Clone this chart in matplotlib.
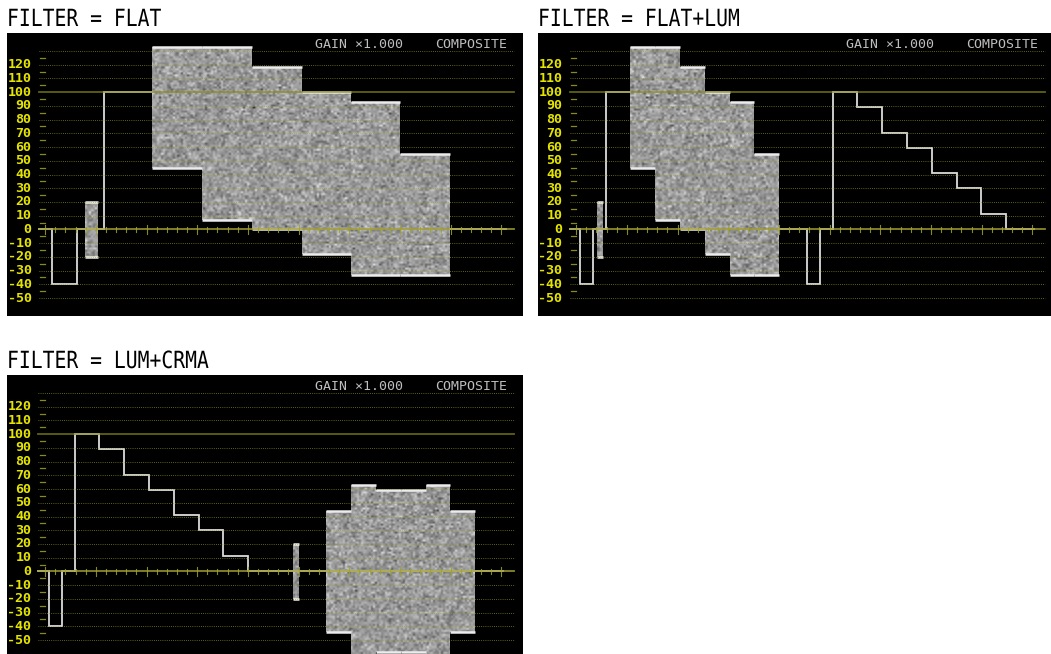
import numpy as np
import matplotlib
matplotlib.use("Agg")
import matplotlib.pyplot as plt
from matplotlib import patheffects
from matplotlib.path import Path
from matplotlib.patches import PathPatch
from matplotlib.transforms import Affine2D

# ---- colour-bar test signal (IRE) ----
bar_names = ["white", "yellow", "cyan", "green", "magenta", "red", "blue"]
bar_luma = [100, 89, 70, 59, 41, 30, 11]
bar_chroma = [0, 44, 63, 59, 59, 63, 44]   # half peak-to-peak subcarrier amplitude
sync_level = -40
burst_amplitude = 20

# ---- horizontal timing (microseconds from the sync leading edge) ----
line_period = 63.5
sync_width = 3.5
burst_window = [4.6, 6.4]
bar_edges = [7.2, 14.0, 21.0, 28.0, 35.0, 41.8, 48.7, 55.6]

# ---- graticule ----
scale_labels = [120, 110, 100, 90, 80, 70, 60, 50, 40, 30, 20, 10, 0,
                -10, -20, -30, -40, -50]
dotted_levels = [130, 120, 110, 90, 80, 70, 60, 50, 40, 30, 20, 10,
                 -10, -20, -30, -40, -50]
half_marks = [125, 115, 105, 95, 85, 75, 65, 55, 45, 35, 25, 15, 5,
              -5, -15, -25, -35, -45]

# ---- the three monitor screens ----
panel_titles = ["FILTER = FLAT", "FILTER = FLAT+LUM", "FILTER = LUM+CRMA"]
panel_filters = [["FLAT"], ["FLAT", "LUM"], ["LUM", "CRMA"]]
panel_windows = [(-1.9, 63.7), (-3.0, 128.2), (-3.0, 128.2)]
status_gain = "GAIN ×1.000"
status_mode = "COMPOSITE"

# ---- layout in figure pixels ----
W, H = 1051, 654
PANEL_W, PANEL_H = 516, 283
panel_origins = [(7, 33), (538, 33), (7, 375)]
GRID_LEFT, GRID_RIGHT = 31.5, 500.5
Y_LIMITS = (-63.1, 143.1)
PX_PER_UNIT_Y = PANEL_H / (Y_LIMITS[1] - Y_LIMITS[0])

TRACE = "#dcdcdc"
GRID_DOT = "#a0a020"
GRID_SOLID = "#8a8a1a"
LABEL = "#e4e400"
STATUS = "#bebebe"


class TallGlyphs(patheffects.AbstractPathEffect):
    """Stretch glyph outlines upward from the baseline."""

    def __init__(self, sy):
        super().__init__()
        self._sy = sy

    def draw_path(self, renderer, gc, tpath, affine, rgbFace=None):
        renderer.draw_path(gc, tpath, Affine2D().scale(1, self._sy) + affine, rgbFace)


def x_at(px, win):
    t0, t1 = win
    return t0 + (px - GRID_LEFT) * (t1 - t0) / (GRID_RIGHT - GRID_LEFT)


def line_shapes(filt, t0):
    """Trace polylines and filled subcarrier boxes for one video line."""
    polylines, boxes = [], []
    e = [t0 + v for v in bar_edges]
    if filt == "CRMA":
        polylines.append([(t0, 0), (t0 + line_period, 0)])
    else:
        polylines.append([(t0, 0), (t0, sync_level), (t0 + sync_width, sync_level),
                          (t0 + sync_width, 0), (e[0], 0)])
    if filt in ("FLAT", "CRMA"):
        boxes.append((t0 + burst_window[0], t0 + burst_window[1],
                      -burst_amplitude, burst_amplitude))
    if filt == "LUM":
        pts = [(e[0], 0)]
        for i, y in enumerate(bar_luma):
            pts += [(e[i], y), (e[i + 1], y)]
        pts += [(e[-1], 0), (t0 + line_period, 0)]
        polylines.append(pts)
    elif filt == "FLAT":
        polylines.append([(e[0], 0), (e[0], bar_luma[0]), (e[1], bar_luma[0])])
        for i in range(1, len(bar_luma)):
            boxes.append((e[i], e[i + 1], bar_luma[i] - bar_chroma[i],
                          bar_luma[i] + bar_chroma[i]))
        polylines.append([(e[-1], 0), (t0 + line_period, 0)])
    else:
        for i in range(1, len(bar_chroma)):
            boxes.append((e[i], e[i + 1], -bar_chroma[i], bar_chroma[i]))
    return polylines, boxes


fig = plt.figure(figsize=(W / 100, H / 100), dpi=100, facecolor="white")
grain_rng = np.random.default_rng(2024)

for idx, (title, filters, win) in enumerate(zip(panel_titles, panel_filters, panel_windows)):
    left, top = panel_origins[idx]
    ax = fig.add_axes([left / W, 1 - (top + PANEL_H) / H, PANEL_W / W, PANEL_H / H])
    ax.set_facecolor("black")
    xlo, xhi = x_at(0, win), x_at(PANEL_W, win)
    ax.set_xlim(xlo, xhi)
    ax.set_ylim(*Y_LIMITS)
    ax.set_xticks([])
    ax.set_yticks([])
    for s in ax.spines.values():
        s.set_visible(False)

    gx0 = x_at(GRID_LEFT, win)
    gx_end = x_at(GRID_RIGHT + 6, win)

    # dotted graticule
    for lv in dotted_levels:
        ax.plot([gx0, gx_end], [lv, lv], color=GRID_DOT, lw=0.7,
                linestyle=(0, (0.8, 1.4)), alpha=0.75, zorder=3)
    ax.plot([gx0, gx_end], [100, 100], color=GRID_SOLID, lw=1.3, alpha=0.7, zorder=3)
    ax.plot([gx0, gx_end], [0, 0], color="#a0a030", lw=1.3, alpha=0.85, zorder=3)

    # time ticks on the blanking line
    for j in range(46):
        p = 38.1 + 10.14 * j
        xt = x_at(p, win)
        half = (4.5 if j % 5 == 0 else 2.3) / PX_PER_UNIT_Y
        ax.plot([xt, xt], [-half, half], color="#a0a030", lw=0.8, alpha=0.85, zorder=3)

    # half-step marks beside the scale
    for lv in half_marks:
        ax.plot([x_at(33, win), x_at(38, win)], [lv, lv], color=GRID_SOLID, lw=0.9, zorder=3)

    # scale numbers
    for lv in scale_labels:
        ax.text(x_at(24.5, win), lv, str(lv), color=LABEL, fontsize=9.6,
                family="DejaVu Sans Mono", fontweight="bold",
                ha="right", va="center", zorder=5)

    # status line
    ax.text(308 / PANEL_W, 1 - 15 / PANEL_H, status_gain, transform=ax.transAxes,
            color=STATUS, fontsize=9.5, family="DejaVu Sans Mono", ha="left",
            va="baseline", zorder=5)
    ax.text(500 / PANEL_W, 1 - 15 / PANEL_H, status_mode, transform=ax.transAxes,
            color=STATUS, fontsize=9.5, family="DejaVu Sans Mono", ha="right",
            va="baseline", zorder=5)

    # waveform
    all_boxes = []
    polys = [[(win[0], 0), (0, 0)]]
    for k, filt in enumerate(filters):
        pl, bx = line_shapes(filt, k * line_period)
        polys += pl
        all_boxes += bx
    for pts in polys:
        xs, ys = zip(*pts)
        ax.plot(xs, ys, color=TRACE, lw=1.3, solid_joinstyle="miter", zorder=2.5)

    if all_boxes:
        paths = [Path([(a, lo), (b, lo), (b, hi), (a, hi), (a, lo)], closed=True)
                 for a, b, lo, hi in all_boxes]
        clip = PathPatch(Path.make_compound_path(*paths), transform=ax.transData,
                         facecolor="none", edgecolor="none")
        ax.add_patch(clip)
        grain = np.clip(grain_rng.normal(0.6, 0.1, (PANEL_H // 2, PANEL_W // 2)), 0, 1)
        im = ax.imshow(grain, extent=(xlo, xhi, Y_LIMITS[0], Y_LIMITS[1]), cmap="gray",
                       vmin=0, vmax=1, aspect="auto", interpolation="bilinear",
                       origin="lower", zorder=2)
        im.set_clip_path(clip)
        for a, b, lo, hi in all_boxes:
            ax.plot([a, b], [hi, hi], color="#ececec", lw=1.8, zorder=2.2,
                    solid_capstyle="butt")
            ax.plot([a, b], [lo, lo], color="#ececec", lw=1.8, zorder=2.2,
                    solid_capstyle="butt")
    ax.set_xlim(xlo, xhi)
    ax.set_ylim(*Y_LIMITS)

    # screen caption above the monitor
    fig.text(left / W, 1 - (top - 7) / H, title, color="black", fontsize=14.2,
             family="DejaVu Sans Mono", ha="left", va="baseline",
             path_effects=[TallGlyphs(1.2)])

fig.savefig("out.png", dpi=100, facecolor="white")
